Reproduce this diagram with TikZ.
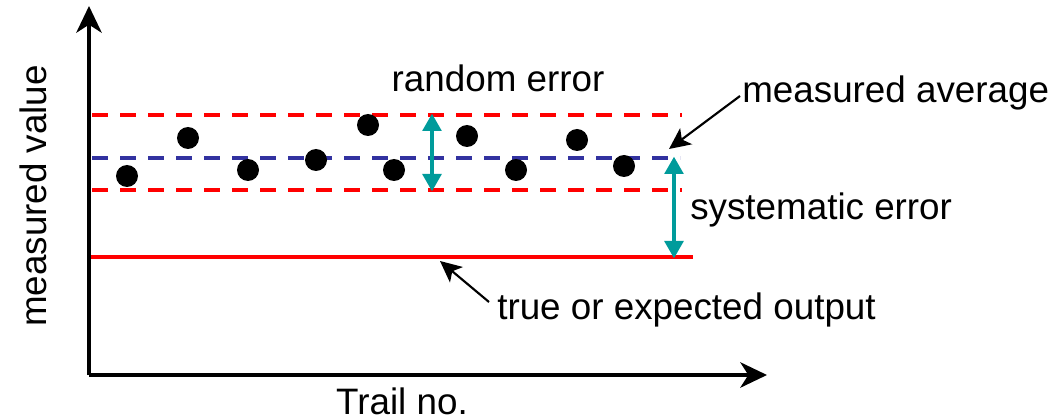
\documentclass[tikz,border=0pt]{standalone}
\usepackage{fontspec}
\setmainfont{Liberation Sans}
\usetikzlibrary{arrows.meta}
\definecolor{myred}{RGB}{255,0,0}
\definecolor{myblue}{RGB}{50,50,160}
\definecolor{myteal}{RGB}{0,155,155}
\begin{document}
\begin{tikzpicture}[x=0.75pt,y=-0.75pt,
  axis/.style={line width=3pt,-{Stealth[length=20pt,width=19pt,inset=6pt]}},
  dashline/.style={line width=2.4pt,dash pattern=on 12pt off 9pt},
  teal arrow/.style={line width=2.8pt,myteal,{Triangle[length=13pt,width=14pt]}-{Triangle[length=13pt,width=14pt]},shorten <=-1pt,shorten >=-1pt},
  pointer/.style={line width=1.6pt,-{Stealth[length=16pt,width=15pt,inset=4pt]}},
  lbl/.style={font=\fontsize{27.6}{30}\selectfont,inner sep=0pt},
  dot/.style={circle,fill=black,minimum size=16.5pt,inner sep=0pt}]
\useasboundingbox (0,0) rectangle (1057,417);
% axes
\coordinate (O) at (89,375);
\coordinate (ytop) at (89,6);
\coordinate (xend) at (767,375);
\draw[axis] (O) -- (ytop);
\draw[axis] (O) -- (xend);
% lines
\coordinate (r1a) at (92,115); \coordinate (r1b) at (682,115);
\coordinate (ba) at (92,158); \coordinate (bb) at (680,158);
\coordinate (r2a) at (92,190); \coordinate (r2b) at (682,190);
\coordinate (ta) at (91,257); \coordinate (tb) at (693,257);
\draw[dashline,myred] (r1a) -- (r1b);
\draw[dashline,myblue] (ba) -- (bb);
\draw[dashline,myred] (r2a) -- (r2b);
\draw[line width=2.4pt,myred] (ta) -- (tb);
% dots
\node[dot] (d1) at (127,176) {};
\node[dot] (d2) at (188,138) {};
\node[dot] (d3) at (248,170) {};
\node[dot] (d4) at (316,160) {};
\node[dot] (d5) at (368,125) {};
\node[dot] (d6) at (394,170) {};
\node[dot] (d7) at (467,136) {};
\node[dot] (d8) at (516,170) {};
\node[dot] (d9) at (577,140) {};
\node[dot] (d10) at (624,166) {};
% error arrows
\coordinate (ra) at (432,115); \coordinate (rb) at (432,190);
\draw[teal arrow] (ra) -- (rb);
\coordinate (sa) at (674,158); \coordinate (sb) at (674,257);
\draw[teal arrow] (sa) -- (sb);
% labels
\node[lbl] (random) at (498,78) {random error};
\node[lbl,anchor=west] (avg) at (742,93) {measured average};
\node[lbl,anchor=west] (sys) at (690,210) {systematic error};
\node[lbl,anchor=west] (true) at (497,310) {true or expected output};
\node[lbl,rotate=90] (ylab) at (33,196) {measured value};
\node[lbl] (xlab) at (402,401) {Trail no.};
% pointers
\coordinate (avgtip) at (669,149);
\coordinate (truetip) at (440,261);
\draw[pointer] (avg.west) ++(-2,3) coordinate (avgstart) -- (avgtip);
\draw[pointer] (true.west) ++(-8,-8) coordinate (truestart) -- (truetip);
\end{tikzpicture}
\end{document}
